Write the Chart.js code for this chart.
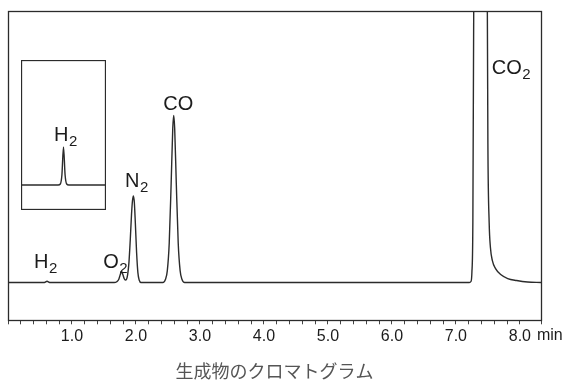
<!DOCTYPE html>
<html lang="ja">
<head>
<meta charset="utf-8">
<title>生成物のクロマトグラム</title>
<script src="https://cdn.jsdelivr.net/npm/chart.js@4.4.1/dist/chart.umd.min.js"></script>
<style>
  html, body { margin: 0; padding: 0; background: #fff; }
  #wrap { position: relative; width: 567px; height: 380px; }
  #main { position: absolute; left: 0; top: 0; }
  #inset { position: absolute; left: 21px; top: 60px; background: #fff; }
</style>
</head>
<body>
<div id="wrap">
  <canvas id="main" width="567" height="380"></canvas>
  <canvas id="inset" width="85" height="150"></canvas>
</div>
<script>
// --- trace data (retention time in min, detector signal) ---
const retention = [0.00, 0.57, 0.61, 0.65,
  1.66, 1.70, 1.73, 1.755, 1.775, 1.795, 1.815, 1.835,
  1.85, 1.87, 1.89, 1.91, 1.93, 1.945, 1.96, 1.975, 1.99, 2.01, 2.03, 2.05, 2.08,
  2.42, 2.46, 2.49, 2.52, 2.55, 2.575, 2.59, 2.605, 2.63, 2.66, 2.69, 2.72, 2.76,
  7.21, 7.235, 7.25, 7.265, 7.28, 7.38, 7.49, 7.50, 7.52, 7.54, 7.57, 7.62, 7.70, 7.81, 7.95, 8.12, 8.33];
const signal = [0, 0, 1.2, 0,
  0, 0.8, 3, 8, 11, 8, 4, 2.5,
  3, 8, 20, 42, 68, 82, 87, 80, 60, 30, 10, 2.5, 0,
  0, 3, 12, 40, 100, 155, 168, 155, 100, 40, 12, 3, 0,
  0, 1, 10, 60, 300, 2500, 300, 140, 60, 35, 22, 14, 8, 4, 2, 0.5, 0];

// zoomed H2 region
const insetRetention = [0.20, 0.55, 0.57, 0.585, 0.60, 0.615, 0.63, 0.65, 1.00];
const insetSignal = [0, 0, 1, 10, 38, 10, 1, 0, 0];

const tickLabels = ['1.0', '2.0', '3.0', '4.0', '5.0', '6.0', '7.0', '8.0'];
const axisUnit = 'min';

// peak names: [main, subscript, label x (min), label y (signal)]
const peakNames = [
  ['H', '2', 0.407, 15],
  ['O', '2', 1.487, 15],
  ['N', '2', 1.83, 96],
  ['CO', '', 2.426, 173],
  ['CO', '2', 7.56, 210]
];
const insetName = ['H', '2', 0.51, 44];

const FONT = "'Liberation Sans', Arial, Helvetica, sans-serif";
const INK = '#1c1c1c';
const LINE = '#2b2b2b';

function toPoints(xs, ys){ return xs.map((x,i)=>({x, y: ys[i]})); }

function drawName(ctx, scales, [main, sub, t, v], size){
  const x = scales.x.getPixelForValue(t), y = scales.y.getPixelForValue(v);
  ctx.save();
  ctx.fillStyle = INK; ctx.textAlign = 'left'; ctx.textBaseline = 'alphabetic';
  ctx.font = size + 'px ' + FONT;
  ctx.fillText(main, x, y);
  if(sub){
    const w = ctx.measureText(main).width;
    ctx.font = Math.round(size*0.74) + 'px ' + FONT;
    ctx.fillText(sub, x + w + 0.5, y + 5);
  }
  ctx.restore();
}

// frame, peak names and the axis unit
const mainDecor = {
  id: 'mainDecor',
  afterDraw(chart){
    const {ctx, chartArea: a, scales} = chart;
    ctx.save();
    ctx.strokeStyle = LINE; ctx.lineWidth = 1.3;
    ctx.strokeRect(Math.round(a.left)+0.5, Math.round(a.top)+0.5, Math.round(a.right-a.left), Math.round(a.bottom-a.top));
    ctx.restore();
    peakNames.forEach(p=>drawName(ctx, scales, p, 20));
    ctx.save();
    ctx.fillStyle = INK; ctx.font = '16px ' + FONT; ctx.textAlign = 'left'; ctx.textBaseline = 'middle';
    ctx.fillText(axisUnit, scales.x.getPixelForValue(8) + 17, a.bottom + 15);
    ctx.restore();
  }
};

new Chart(document.getElementById('main'), {
  type: 'line',
  data: { datasets: [{
    data: toPoints(retention, signal),
    borderColor: LINE, borderWidth: 1.4, pointRadius: 0,
    cubicInterpolationMode: 'monotone', fill: false
  }]},
  options: {
    responsive: false, animation: false,
    layout: { padding: { left: 8, right: 26, top: 11, bottom: 0 } },
    plugins: {
      legend: { display: false }, tooltip: { enabled: false },
      title: {
        display: true, position: 'bottom', text: '生成物のクロマトグラム',
        color: '#555', font: { family: "'Noto Sans CJK JP', sans-serif", size: 18, weight: 'normal', lineHeight: 1 },
        padding: { top: 12.5, bottom: 0 }
      }
    },
    scales: {
      x: {
        type: 'linear', min: 0, max: 8.33,
        border: { display: false },
        grid: { drawOnChartArea: false, drawTicks: true, tickLength: 4, color: '#444', tickColor: '#444' },
        ticks: {
          stepSize: 0.2, autoSkip: false, maxRotation: 0, padding: 3,
          color: INK, font: { family: FONT, size: 16 },
          callback: v => {
            const r = Math.round(v);
            return (Math.abs(v - r) < 1e-6 && r >= 1) ? tickLabels[r-1] : '';
          }
        }
      },
      y: { display: false, min: -38, max: 273 }
    }
  },
  plugins: [mainDecor]
});

const insetDecor = {
  id: 'insetDecor',
  afterDraw(chart){
    const {ctx, width, height, scales} = chart;
    ctx.save();
    ctx.strokeStyle = LINE; ctx.lineWidth = 1.3;
    ctx.strokeRect(0.5, 0.5, width-1, height-1);
    ctx.restore();
    drawName(ctx, scales, insetName, 20);
  }
};

new Chart(document.getElementById('inset'), {
  type: 'line',
  data: { datasets: [{
    data: toPoints(insetRetention, insetSignal),
    borderColor: LINE, borderWidth: 1.4, pointRadius: 0,
    cubicInterpolationMode: 'monotone', fill: false
  }]},
  options: {
    responsive: false, animation: false,
    layout: { padding: 0 },
    plugins: { legend: { display: false }, tooltip: { enabled: false } },
    scales: {
      x: { type: 'linear', display: false, min: 0.2, max: 1.0 },
      y: { display: false, min: -25, max: 125 }
    }
  },
  plugins: [insetDecor]
});
</script>
</body>
</html>
